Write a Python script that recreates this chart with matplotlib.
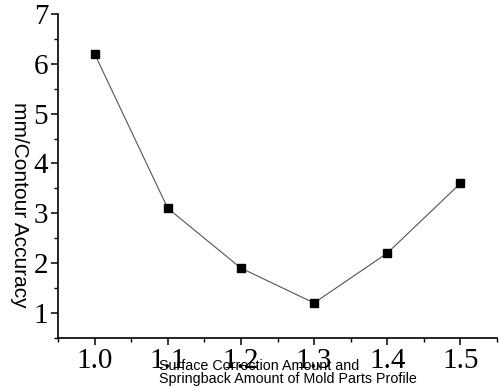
import matplotlib.pyplot as plt
from matplotlib.ticker import MultipleLocator

# correction amount vs contour accuracy
amount = [1.0, 1.1, 1.2, 1.3, 1.4, 1.5]
accuracy = [6.2, 3.1, 1.9, 1.2, 2.2, 3.6]

fig = plt.figure(figsize=(5, 3.87), dpi=100)
ax = fig.add_axes([0.116, 0.127, 0.878, 0.837])

ax.plot(amount, accuracy, color='#555555', linewidth=0.8,
        marker='s', markersize=6, markerfacecolor='black', markeredgecolor='black')

ax.set_xlim(0.95, 1.55)
ax.set_ylim(0.5, 7)
ax.xaxis.set_major_locator(MultipleLocator(0.1))
ax.xaxis.set_minor_locator(MultipleLocator(0.05))
ax.yaxis.set_major_locator(MultipleLocator(1))
ax.yaxis.set_minor_locator(MultipleLocator(0.5))
ax.set_yticks([1, 2, 3, 4, 5, 6, 7])
ax.set_xticks(amount)
ax.set_xticklabels(['%.1f' % v for v in amount])

for s in ['top', 'right']:
    ax.spines[s].set_visible(False)
for s in ['left', 'bottom']:
    ax.spines[s].set_linewidth(1.2)

ax.tick_params(which='major', direction='out', length=5, width=1.1, pad=2)
ax.tick_params(which='minor', direction='out', length=3, width=1.0)
for lab in ax.get_xticklabels() + ax.get_yticklabels():
    lab.set_family('Liberation Serif')
    lab.set_fontsize(21)

fig.text(0.038, 0.47, 'mm/Contour Accuracy', rotation=270, ha='center', va='center',
         family='Liberation Sans', fontsize=15)
fig.text(0.318, 0.002, 'Surface Correction Amount and\nSpringback Amount of Mold Parts Profile',
         ha='left', va='bottom', family='Liberation Sans', fontsize=10.3, linespacing=0.95)

fig.savefig('out.png', dpi=100)
